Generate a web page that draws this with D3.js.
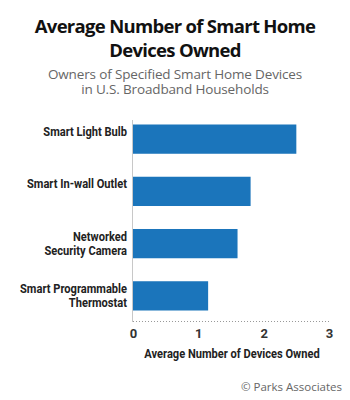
<!DOCTYPE html>
<html><head><meta charset="utf-8">
<script src="https://cdn.jsdelivr.net/npm/d3@7"></script>
<style>
html,body{margin:0;padding:0;background:#fff;}
svg{display:block;}
</style></head>
<body>
<svg id="chart" width="350" height="400"></svg>
<script>
const categories = [["Smart Light Bulb"], ["Smart In-wall Outlet"], ["Networked", "Security Camera"], ["Smart Programmable", "Thermostat"]];
const values = [2.5, 1.8, 1.6, 1.15];
const xTicks = [0, 1, 2, 3];
const titleLines = ["Average Number of Smart Home", "Devices Owned"];
const subtitleLines = ["Owners of Specified Smart Home Devices", "in U.S. Broadband Households"];
const xAxisTitle = "Average Number of Devices Owned";
const credit = "© Parks Associates";

const svg = d3.select("#chart");
const labFont = "Roboto, 'Open Sans', sans-serif";

const x = d3.scaleLinear().domain([0, 3]).range([133, 329]);
const y = d3.scaleBand().domain(d3.range(categories.length)).range([113, 322]).paddingInner(0.44).paddingOuter(0.22);

// condensing helper: squeeze text horizontally around its anchor x
function squeeze(sel, ax, k) {
  sel.attr("transform", `translate(${ax},0) scale(${k},1) translate(${-ax},0)`);
}

// Title
svg.append("g").selectAll("text").data(titleLines).join("text")
  .attr("x", 175).attr("y", (d, i) => 32.5 + i * 24)
  .attr("text-anchor", "middle")
  .style("font-family", "'Open Sans',sans-serif").style("font-weight", 700)
  .style("font-size", "18.5px").style("letter-spacing", "-0.7px").attr("fill", "#111")
  .text(d => d);

svg.append("g").selectAll("text").data(subtitleLines).join("text")
  .attr("x", 175).attr("y", (d, i) => 79 + i * 15)
  .attr("text-anchor", "middle")
  .style("font-family", "'Open Sans',sans-serif").style("font-weight", 400)
  .style("font-size", "13.5px").style("letter-spacing", "-0.15px").attr("fill", "#666")
  .text(d => d);

// dotted baseline
svg.append("line").attr("x1", x(0)).attr("x2", x(3) + 1).attr("y1", 321.5).attr("y2", 321.5)
  .attr("stroke", "#999").attr("stroke-width", 1).attr("stroke-dasharray", "1,2");

// bars
svg.append("g").selectAll("rect").data(values).join("rect")
  .attr("x", x(0)).attr("y", (d, i) => y(i))
  .attr("width", d => x(d) - x(0)).attr("height", y.bandwidth())
  .attr("fill", "#1b75bb");

// vertical axis line
svg.append("line").attr("x1", x(0) - 0.5).attr("x2", x(0) - 0.5).attr("y1", 120).attr("y2", 322)
  .attr("stroke", "#c8c8c8").attr("stroke-width", 1);

// category labels
const labG = svg.append("g");
const lab = labG.selectAll("text").data(categories).join("text")
  .attr("text-anchor", "end")
  .style("font-family", labFont).style("font-weight", 700)
  .style("font-size", "13px").attr("fill", "#222");
lab.each(function(lines, i) {
  const cy = y(i) + y.bandwidth() / 2;
  d3.select(this).selectAll("tspan").data(lines).join("tspan")
    .attr("x", 127)
    .attr("y", (d, j) => cy - 3 + j * 14.5)
    .text(d => d);
});
// measure the widest label and condense to match reference look
const probe = labG.append("text").style("font-family", labFont).style("font-weight", 700)
  .style("font-size", "13px").text("Smart Programmable");
const natW = probe.node().getComputedTextLength();
probe.remove();
const k = Math.min(1, 107 / natW);
squeeze(labG, 127, k);

// x axis
const xAxis = d3.axisBottom(x).tickValues(xTicks).tickSize(0).tickPadding(0).tickFormat(d3.format("d"));
const gx = svg.append("g").attr("transform", "translate(0,329)").call(xAxis);
gx.select(".domain").remove();
gx.selectAll("text").attr("dy", "0.71em")
  .style("font-family", labFont).style("font-weight", 700)
  .style("font-size", "13px").attr("fill", "#333");

const at = svg.append("text").attr("x", 232).attr("y", 358.5).attr("text-anchor", "middle")
  .style("font-family", labFont).style("font-weight", 700)
  .style("font-size", "13px").attr("fill", "#222").text(xAxisTitle);
squeeze(at, 232, k);

svg.append("text").attr("x", 342).attr("y", 391).attr("text-anchor", "end")
  .style("font-family", "'Open Sans',sans-serif").style("font-size", "11.5px")
  .attr("fill", "#666").text(credit);
</script>
</body></html>
